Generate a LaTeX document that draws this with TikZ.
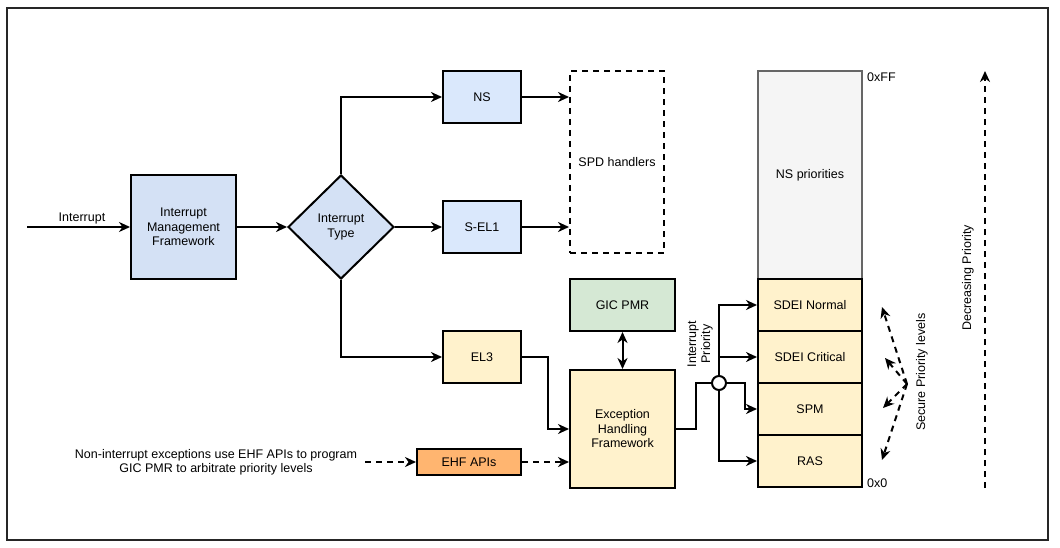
\documentclass[tikz,border=0pt]{standalone}
\usepackage{fontspec}
\setmainfont{Liberation Sans}
\usetikzlibrary{arrows.meta,shapes.geometric,calc}
\definecolor{blueA}{HTML}{D4E1F5}
\definecolor{blueB}{HTML}{DAE8FC}
\definecolor{yel}{HTML}{FFF2CC}
\definecolor{grn}{HTML}{D5E8D4}
\definecolor{org}{HTML}{FFB570}
\definecolor{gryfill}{HTML}{F5F5F5}
\definecolor{grystroke}{HTML}{666666}
\tikzset{
  tip/.tip={Stealth[length=11pt,width=10pt,inset=3.5pt]},
  box/.style={draw=black, line width=2pt, rectangle, align=center, inner sep=1pt, font=\fontsize{12.5}{14.5}\selectfont},
  arr/.style={line width=2pt, -tip},
  darr/.style={line width=2pt, -tip, dash pattern=on 6pt off 5pt},
  lbl/.style={align=center, inner sep=0pt, font=\fontsize{12.5}{14}\selectfont},
}
\begin{document}
\begin{tikzpicture}[x=1pt,y=-1pt]
\useasboundingbox (0,0) rectangle (1060,548);
\draw[line width=2pt, draw=black!85] (7,8) rectangle (1048,540);

% left part
\node[box, fill=blueA, minimum width=105pt, minimum height=104pt] (imf) at (183.5,227) {Interrupt\\Management\\Framework};
\coordinate (in) at (27,227);
\node[lbl] (inlbl) at (82,218) {Interrupt};
\node[diamond, draw=black, line width=2pt, fill=blueA, aspect=1, inner sep=0pt, minimum width=106pt, minimum height=104pt, align=center, font=\fontsize{12.5}{14.5}\selectfont] (type) at (341,227) {Interrupt\\Type};

\node[box, fill=blueB, minimum width=78pt, minimum height=52pt] (ns) at (482,97) {NS};
\node[box, fill=blueB, minimum width=78pt, minimum height=52pt] (sel1) at (482,227) {S-EL1};
\node[box, fill=yel, minimum width=78pt, minimum height=52pt] (el3) at (482,357) {EL3};

\node[box, draw=black, dash pattern=on 6pt off 5pt, minimum width=94pt, minimum height=182pt] (spd) at (617,162) {SPD handlers};

\node[box, fill=grn, minimum width=105pt, minimum height=52pt] (gic) at (622.5,305) {GIC PMR};
\node[box, fill=yel, minimum width=105pt, minimum height=118pt] (ehf) at (622.5,429) {Exception\\Handling\\Framework};
\node[box, fill=org, minimum width=104pt, minimum height=26pt] (apis) at (469,462) {EHF APIs};
\node[lbl] (note) at (216,462) {Non-interrupt exceptions use EHF APIs to program\\GIC PMR to arbitrate priority levels};

% junction
\node[circle, draw=black, line width=2pt, fill=white, minimum size=14pt, inner sep=0pt] (junc) at (719,383) {};
\node[lbl, rotate=90] (iplbl) at (700,344) {Interrupt\\Priority};

% priority stack
\node[box, fill=gryfill, draw=grystroke, minimum width=104pt, minimum height=208pt] (nsp) at (810,175) {NS priorities};
\node[box, fill=yel, minimum width=104pt, minimum height=52pt] (sdein) at (810,305) {SDEI Normal};
\node[box, fill=yel, minimum width=104pt, minimum height=52pt] (sdeic) at (810,357) {SDEI Critical};
\node[box, fill=yel, minimum width=104pt, minimum height=52pt] (spm) at (810,409) {SPM};
\node[box, fill=yel, minimum width=104pt, minimum height=52pt] (ras) at (810,461) {RAS};
\node[lbl, anchor=west] (ff) at (867,77) {0xFF};
\node[lbl, anchor=west] (zero) at (867,483) {0x0};

% secure priority levels
\coordinate (sp) at (907,384);
\coordinate (s1) at (882,307);
\coordinate (s2) at (885,358);
\coordinate (s3) at (883,408);
\coordinate (s4) at (882,460);
\node[lbl, rotate=90] (splbl) at (922,372) {Secure Priority levels};

% decreasing priority
\coordinate (d0) at (985,488);
\coordinate (d1) at (985,71);
\node[lbl, rotate=90] (dplbl) at (968,278) {Decreasing Priority};

% connectors
\draw[arr] (in) -- (imf.west);
\draw[arr] (imf.east) -- (type.west);
\draw[arr] (type.north) |- (ns.west);
\draw[arr] (type.east) -- (sel1.west);
\draw[arr] (type.south) |- (el3.west);
\draw[arr] (ns.east) -- (ns.east -| spd.west);
\draw[arr] (sel1.east) -- (sel1.east -| spd.west);
\draw[line width=2pt, tip-tip] (gic.south) -- (ehf.north);
\draw[arr] (el3.east) -- ++(26,0) |- (ehf.west);
\draw[darr] ([xshift=8pt]note.east |- apis.west) -- (apis.west);
\draw[darr] (apis.east) -- (apis.east -| ehf.west);
\draw[line width=2pt] (ehf.east) -- ++(20,0) |- (junc.west);
\draw[arr] (junc.north) |- (sdein.west);
\draw[arr] (junc.north |- sdeic.west) -- (sdeic.west);
\draw[arr] (junc.east) -- ++(18,0) |- (spm.west);
\draw[arr] (junc.south) |- (ras.west);
\draw[darr] (sp) -- (s1);
\draw[darr] (sp) -- (s2);
\draw[darr] (sp) -- (s3);
\draw[darr] (sp) -- (s4);
\draw[darr] (d0) -- (d1);
\end{tikzpicture}
\end{document}
